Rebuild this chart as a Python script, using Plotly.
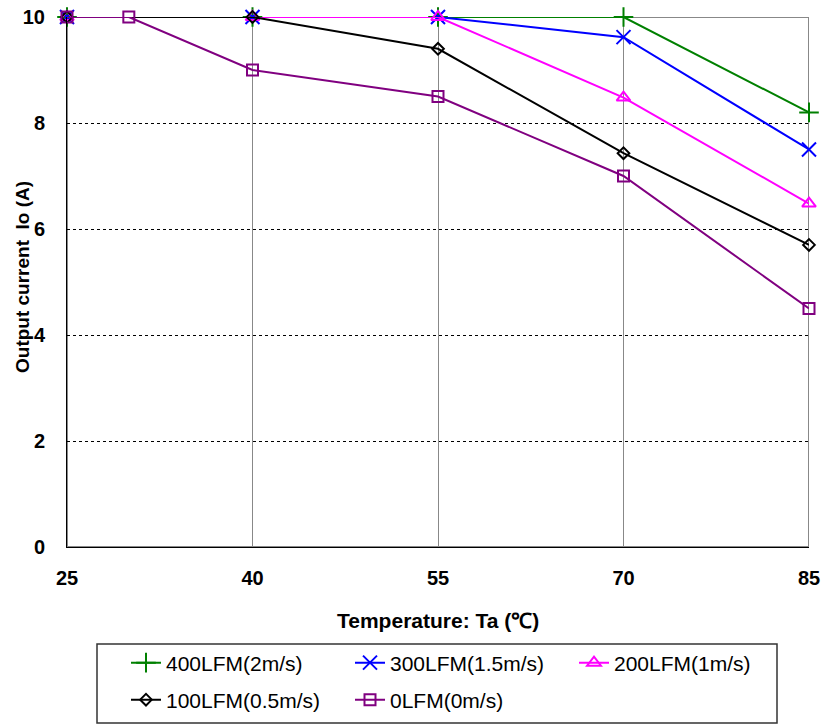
import plotly.graph_objects as go

temps = [25, 40, 55, 70, 85]
temps_0lfm = [25, 30, 40, 55, 70, 85]
lfm400 = [10, 10, 10, 10, 8.2]
lfm300 = [10, 10, 10, 9.62, 7.5]
lfm200 = [10, 10, 10, 8.48, 6.48]
lfm100 = [10, 10, 9.4, 7.43, 5.7]
lfm0 = [10, 10, 9.0, 8.5, 7.0, 4.5]

names = ["400LFM(2m/s)", "300LFM(1.5m/s)", "200LFM(1m/s)", "100LFM(0.5m/s)", "0LFM(0m/s)"]
colors = ["#008000", "#0000FF", "#FF00FF", "#000000", "#800080"]
symbols = ["cross-thin-open", "x-thin-open", "triangle-up-open", "diamond-open", "square-open"]
sizes = [14, 14, 12, 9, 11]
xs = [temps, temps, temps, temps, temps_0lfm]
ys = [lfm400, lfm300, lfm200, lfm100, lfm0]
legend_ids = ["legend", "legend", "legend", "legend2", "legend2"]

# plot area in pixels
L, R, T, B = 67, 809, 17, 547
W, H = R - L, B - T


def px_x(p):
    return (p - L) / W


def px_y(p):
    return (B - p) / H


fig = go.Figure()
for i in [0, 1, 2, 3, 4]:
    fig.add_trace(go.Scatter(
        x=xs[i], y=ys[i], name=names[i], mode="lines+markers",
        line=dict(color=colors[i], width=2),
        marker=dict(symbol=symbols[i], size=sizes[i], color=colors[i],
                    line=dict(color=colors[i], width=2)),
        cliponaxis=False, legend=legend_ids[i],
    ))

font = "Liberation Sans, Arial, sans-serif"
legend_common = dict(orientation="h", xanchor="left", yanchor="middle",
                     bgcolor="rgba(0,0,0,0)", borderwidth=0,
                     font=dict(size=21, family=font, color="black"),
                     entrywidth=179, entrywidthmode="pixels", traceorder="normal")
fig.update_layout(
    width=823, height=726,
    margin=dict(l=L, r=823 - R, t=T, b=726 - B, autoexpand=False),
    paper_bgcolor="white", plot_bgcolor="white",
    font=dict(family=font, color="black"),
    xaxis=dict(range=[25, 85], tickvals=[25, 40, 55, 70, 85],
               showgrid=True, gridcolor="#888888", gridwidth=1,
               showline=True, linecolor="black", linewidth=1,
               zeroline=False, ticks="", ticklabelstandoff=13, automargin=False,
               tickfont=dict(size=20, weight="bold")),
    yaxis=dict(range=[0, 10], tickvals=[0, 2, 4, 6, 8, 10],
               showgrid=True, gridcolor="black", gridwidth=1, griddash="dot",
               showline=True, linecolor="black", linewidth=1,
               zeroline=False, ticks="", ticklabelstandoff=17, automargin=False,
               tickfont=dict(size=20, weight="bold")),
    legend=dict(x=px_x(126), y=px_y(663), **legend_common),
    legend2=dict(x=px_x(126), y=px_y(700), **legend_common),
    showlegend=True,
    shapes=[
        dict(type="rect", xref="x", yref="y", x0=25, x1=85, y0=0, y1=10,
             line=dict(color="#888888", width=2), layer="below"),
        dict(type="rect", xref="paper", yref="paper", x0=px_x(97), x1=px_x(777),
             y0=px_y(723), y1=px_y(644), line=dict(color="#333333", width=1.5)),
    ],
    annotations=[
        dict(text="Temperature: Ta (℃)", xref="paper", yref="paper",
             x=px_x(438), y=px_y(620), xanchor="center", yanchor="middle",
             showarrow=False, font=dict(size=21, weight="bold")),
        dict(text="Output current  Io (A)", xref="paper", yref="paper",
             x=px_x(22), y=px_y(277), xanchor="center", yanchor="middle",
             textangle=-90, showarrow=False, font=dict(size=19, weight="bold")),
    ],
)

fig.write_html("out.html", config={"displayModeBar": False},
               post_script="document.body.style.margin='0';document.body.style.overflow='hidden';")
